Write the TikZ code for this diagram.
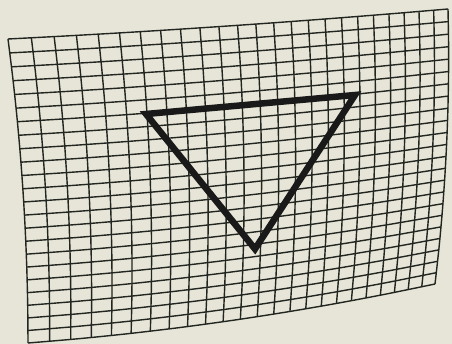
\documentclass[tikz,border=0pt]{standalone}
\usepackage{tikz}
\definecolor{paper}{RGB}{231,229,216}
\definecolor{ink}{RGB}{34,38,32}
\begin{document}
\begin{tikzpicture}[x=1pt,y=-1pt,
  gridline/.style={draw=ink,line width=1.4pt},
  tri/.style={draw=black!90,line width=6.5pt,line join=miter,miter limit=10},
  declare function={
    uu(\t)=\t*1.29/(1+0.29*\t);
    vv(\t)=\t*1.06/(1+0.06*\t);
    px(\u,\v)=(1-\v)*((1-\u)*8+\u*448)+\v*((1-\u)*28+\u*435)+20*\v*(1-\v);
    py(\u,\v)=(1-\u)*((1-\v)*39+\v*343)+\u*((1-\v)*9+\v*284)+(2+5*\v)*4*\u*(1-\u);
  }]
\fill[paper] (0,0) rectangle (452,344);
\useasboundingbox (0,0) rectangle (452,344);
\foreach \i in {0,...,24}{
  \pgfmathsetmacro{\uc}{uu(\i/24)}
  \draw[gridline] plot[variable=\t,domain=0:1,samples=9,smooth] ({px(\uc,\t)},{py(\uc,\t)});
}
\foreach \j in {0,...,23}{
  \pgfmathsetmacro{\vc}{vv(\j/23)}
  \draw[gridline] plot[variable=\t,domain=0:1,samples=9,smooth] ({px(\t,\vc)},{py(\t,\vc)});
}
\coordinate (A) at (146,114);
\coordinate (B) at (355,95);
\coordinate (C) at (255,249);
\draw[tri] (A) -- (B) -- (C) -- cycle;
\end{tikzpicture}
\end{document}
